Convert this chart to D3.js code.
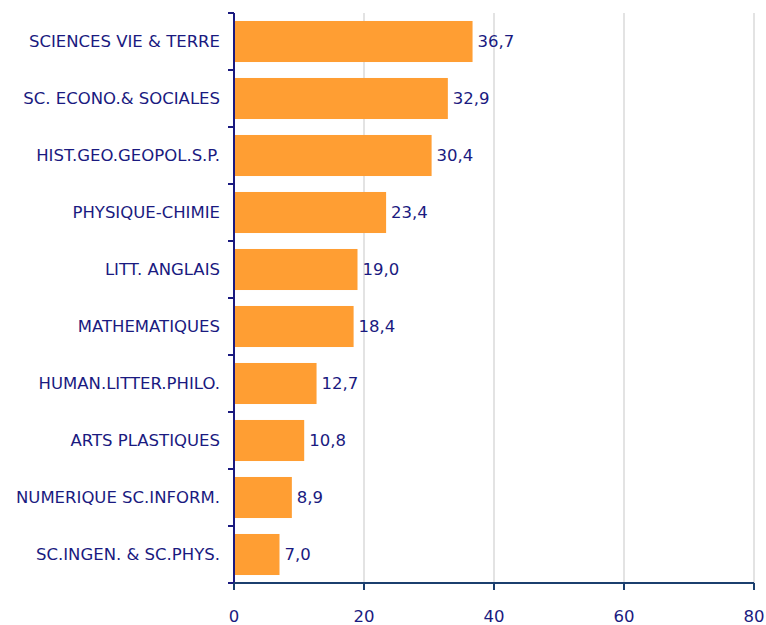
<!DOCTYPE html>
<html>
<head>
<meta charset="utf-8">
<script src="https://cdn.jsdelivr.net/npm/d3@7"></script>
<style>
body{margin:0;background:#fff;}
</style>
</head>
<body>
<svg id="svg" width="766" height="625"></svg>
<script>
var subjects=["SCIENCES VIE & TERRE","SC. ECONO.& SOCIALES","HIST.GEO.GEOPOL.S.P.","PHYSIQUE-CHIMIE","LITT. ANGLAIS","MATHEMATIQUES","HUMAN.LITTER.PHILO.","ARTS PLASTIQUES","NUMERIQUE SC.INFORM.","SC.INGEN. & SC.PHYS."];
var values=[36.7,32.9,30.4,23.4,19.0,18.4,12.7,10.8,8.9,7.0];
var xTicks=[0,20,40,60,80];

var mLeft=234, mTop=13, mRight=754, mBottom=583;
var navy="#1a1a80";
var font="'DejaVu Sans', Verdana, sans-serif";
var svg=d3.select("#svg").style("font-family",font);

var x=d3.scaleLinear().domain([0,80]).range([mLeft,mRight]);
var y=d3.scaleBand().domain(subjects).range([mTop,mBottom]).paddingInner(0.28).paddingOuter(0.14);

// grid
svg.selectAll(".grid").data(xTicks.slice(1)).enter().append("line")
    .attr("x1",d=>x(d)).attr("x2",d=>x(d))
    .attr("y1",mTop).attr("y2",mBottom)
    .style("stroke","#e3e3e3").style("stroke-width","2");

// bars
svg.selectAll(".bar").data(values).enter().append("rect")
    .attr("x",x(0))
    .attr("y",(d,i)=>y(subjects[i]))
    .attr("width",d=>x(d)-x(0))
    .attr("height",y.bandwidth())
    .style("fill","#ff9e33");

// value labels
var fmt=d3.format(".1f");
svg.selectAll(".val").data(values).enter().append("text")
    .attr("x",d=>x(d)+5)
    .attr("y",(d,i)=>y(subjects[i])+y.bandwidth()/2)
    .attr("dy","0.35em")
    .style("font-size","16.5px")
    .style("fill",navy)
    .text(d=>fmt(d).replace(".",","));

// category labels
svg.selectAll(".cat").data(subjects).enter().append("text")
    .attr("x",mLeft-14)
    .attr("y",d=>y(d)+y.bandwidth()/2)
    .attr("dy","0.35em")
    .attr("text-anchor","end")
    .style("font-size","16.5px")
    .style("fill",navy)
    .text(d=>d);

// y axis line + ticks at band boundaries
svg.append("line").attr("x1",mLeft).attr("x2",mLeft).attr("y1",mTop).attr("y2",mBottom)
    .style("stroke",navy).style("stroke-width","2");
var bounds=d3.range(subjects.length+1).map(i=>mTop+i*y.step());
svg.selectAll(".ytick").data(bounds).enter().append("line")
    .attr("x1",mLeft-6).attr("x2",mLeft).attr("y1",d=>d).attr("y2",d=>d)
    .style("stroke",navy).style("stroke-width","2");

// x axis
svg.append("line").attr("x1",mLeft).attr("x2",mRight).attr("y1",mBottom).attr("y2",mBottom)
    .style("stroke","#1b3f6e").style("stroke-width","2");
svg.selectAll(".xtick").data(xTicks).enter().append("line")
    .attr("x1",d=>x(d)).attr("x2",d=>x(d)).attr("y1",mBottom).attr("y2",mBottom+7)
    .style("stroke","#1b3f6e").style("stroke-width","2");
svg.selectAll(".xlab").data(xTicks).enter().append("text")
    .attr("x",d=>x(d)).attr("y",mBottom+33)
    .attr("dy","0.35em")
    .attr("text-anchor","middle")
    .style("font-size","16.5px")
    .style("fill",navy)
    .text(d=>d);
</script>
</body>
</html>
